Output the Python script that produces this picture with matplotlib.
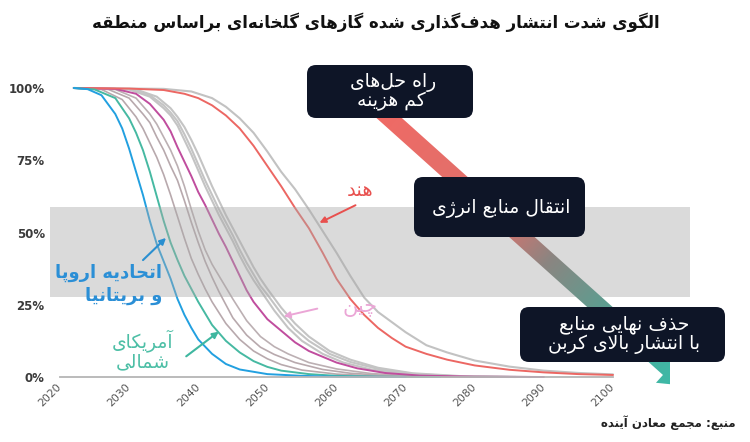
import numpy as np
import matplotlib
matplotlib.use('Agg')
import matplotlib.pyplot as plt
from matplotlib.patches import FancyBboxPatch, Rectangle, Polygon
from matplotlib.colors import LinearSegmentedColormap

plt.rcParams['font.family'] = ['DejaVu Sans']

# ---------------- data ----------------
x_ticks = [2020, 2030, 2040, 2050, 2060, 2070, 2080, 2090, 2100]
y_ticks = [0, 25, 50, 75, 100]
y_tick_labels = ['0%', '25%', '50%', '75%', '100%']

blue_years = [2022, 2024, 2026, 2028, 2029, 2030, 2031, 2032, 2033, 2034, 2035, 2036, 2037, 2038, 2039, 2040, 2042, 2044, 2046, 2050, 2055, 2060, 2070]
blue_vals = [100, 99.6, 97.5, 91, 86, 79, 71, 63, 54, 46, 40, 34, 27, 21.5, 17, 13, 8, 4.5, 2.6, 1.0, 0.4, 0.1, 0]

teal_years = [2022, 2025, 2028, 2030, 2031, 2032, 2033, 2034, 2035, 2036, 2037, 2038, 2039, 2040, 2042, 2044, 2046, 2048, 2050, 2052, 2056, 2060, 2066, 2075]
teal_vals = [100, 99.5, 96.5, 89.5, 84.5, 78.5, 71, 62.5, 54, 46.5, 40.5, 35, 30.5, 26, 18, 12.5, 8.5, 5.5, 3.5, 2.2, 1.0, 0.4, 0.1, 0]

mauve_a_years = [2022, 2026, 2029, 2031, 2032, 2033, 2034, 2035, 2036, 2037, 2038, 2039, 2040, 2041, 2042, 2044, 2046, 2048, 2050, 2052, 2055, 2060, 2065, 2072, 2080]
mauve_a_vals = [100, 99.5, 96, 90, 86, 81, 76, 70, 63, 55.5, 48, 41, 35.5, 30.5, 26, 18.5, 13, 9, 6.3, 4.3, 2.4, 1.0, 0.4, 0.1, 0]

mauve_b_years = [2022, 2027, 2030, 2032, 2033, 2034, 2035, 2036, 2037, 2038, 2039, 2040, 2041, 2042, 2043, 2045, 2047, 2049, 2051, 2054, 2058, 2062, 2068, 2075, 2085]
mauve_b_vals = [100, 99.5, 96.5, 91, 88, 83, 78.5, 73, 68, 61, 53.5, 46.5, 40, 34.5, 29.5, 20.5, 14.5, 10.3, 7.8, 5, 2.6, 1.3, 0.4, 0.1, 0]

mauve_c_years = [2022, 2028, 2031, 2033, 2034, 2035, 2036, 2037, 2038, 2039, 2040, 2041, 2042, 2043, 2045, 2047, 2049, 2051, 2053, 2056, 2060, 2065, 2070, 2078, 2088]
mauve_c_vals = [100, 99.5, 96.5, 91, 87.5, 83, 78.5, 73, 66, 58, 50.5, 44, 39, 35, 27, 19.5, 14, 10.5, 8, 5, 2.8, 1.2, 0.5, 0.1, 0]

china_years = [2022, 2028, 2031, 2033, 2035, 2036, 2037, 2038, 2039, 2040, 2041, 2042, 2043, 2044, 2045, 2046, 2047, 2048, 2050, 2052, 2054, 2056, 2058, 2060, 2063, 2067, 2072, 2080, 2090]
china_vals = [100, 99.7, 98, 94.5, 89, 85, 79.5, 74.5, 69.5, 64, 59.5, 54.5, 49.5, 45, 40, 35, 30, 26, 20, 16, 12, 9, 7, 5, 3, 1.4, 0.5, 0.1, 0]

gray_a_years = [2022, 2030, 2033, 2035, 2036, 2037, 2038, 2039, 2040, 2041, 2042, 2043, 2044, 2045, 2046, 2047, 2048, 2049, 2051, 2053, 2055, 2058, 2061, 2065, 2070, 2076, 2085]
gray_a_vals = [100, 99.5, 97, 93, 90.5, 87, 82, 77, 71.5, 66, 61, 56, 51.5, 47, 42, 37.5, 33.5, 30, 23, 17, 12.5, 8, 5, 2.6, 1.0, 0.3, 0]

gray_b_years = [2022, 2030, 2033, 2035, 2036, 2037, 2038, 2039, 2040, 2041, 2042, 2043, 2044, 2045, 2046, 2047, 2048, 2049, 2050, 2052, 2054, 2056, 2059, 2062, 2066, 2071, 2077, 2086]
gray_b_vals = [100, 99.6, 97.5, 94, 91.5, 88.5, 84, 79, 73.5, 68, 63, 58, 53.5, 49, 44, 39.5, 35.5, 31.5, 28.5, 22, 16.5, 12.5, 8, 5.2, 2.8, 1.1, 0.3, 0]

gray_c_years = [2022, 2031, 2034, 2036, 2037, 2038, 2039, 2040, 2041, 2042, 2043, 2044, 2045, 2046, 2047, 2048, 2049, 2050, 2052, 2054, 2056, 2059, 2062, 2066, 2071, 2078, 2088]
gray_c_vals = [100, 99.5, 97, 93, 90, 86.5, 82, 77, 71.5, 66, 61, 56, 51.5, 47, 42.5, 38, 34, 30.5, 24, 18.5, 14, 9, 6, 3.2, 1.3, 0.3, 0]

india_years = [2022, 2030, 2035, 2038, 2040, 2042, 2044, 2046, 2048, 2050, 2052, 2054, 2056, 2058, 2060, 2062, 2064, 2066, 2068, 2070, 2073, 2076, 2080, 2085, 2090, 2095, 2100]
india_vals = [100, 99.8, 99.3, 98, 96.5, 94, 90.5, 86, 80, 73, 66, 58.5, 51.5, 43, 34, 27, 21.5, 17, 13.5, 10.5, 8, 6, 4, 2.5, 1.6, 1.0, 0.7]

gray_d_years = [2022, 2035, 2039, 2042, 2044, 2046, 2048, 2050, 2052, 2054, 2056, 2058, 2060, 2062, 2064, 2066, 2068, 2070, 2073, 2076, 2080, 2085, 2090, 2095, 2100]
gray_d_vals = [100, 99.7, 98.8, 96.5, 93.5, 89.5, 84.5, 78, 71, 65, 58, 50.5, 43, 35, 27.5, 22.5, 19, 15.5, 11, 8.5, 5.7, 3.6, 2.2, 1.4, 0.9]

title_text = 'الگوی شدت انتشار هدف\u200cگذاری شده گازهای گلخانه\u200cای براساس منطقه'
source_text = 'منبع: مجمع معادن آینده'
box1_lines = ['راه حل\u200cهای', 'کم هزینه']
box2_lines = ['انتقال منابع انرژی']
box3_lines = ['حذف نهایی منابع', 'با انتشار بالای کربن']
eu_lines = ['اتحادیه اروپا', 'و بریتانیا']
na_lines = ['آمریکای', 'شمالی']
india_label = 'هند'
china_label = 'چین'

# ---------------- Persian shaping (matplotlib has no complex text layout) ----------------
FORMS = {
    '\u0622': ('\uFE81', '\uFE82', None, None),
    '\u0627': ('\uFE8D', '\uFE8E', None, None),
    '\u0628': ('\uFE8F', '\uFE90', '\uFE91', '\uFE92'),
    '\u067E': ('\uFB56', '\uFB57', '\uFB58', '\uFB59'),
    '\u062A': ('\uFE95', '\uFE96', '\uFE97', '\uFE98'),
    '\u062B': ('\uFE99', '\uFE9A', '\uFE9B', '\uFE9C'),
    '\u062C': ('\uFE9D', '\uFE9E', '\uFE9F', '\uFEA0'),
    '\u0686': ('\uFB7A', '\uFB7B', '\uFB7C', '\uFB7D'),
    '\u062D': ('\uFEA1', '\uFEA2', '\uFEA3', '\uFEA4'),
    '\u062E': ('\uFEA5', '\uFEA6', '\uFEA7', '\uFEA8'),
    '\u062F': ('\uFEA9', '\uFEAA', None, None),
    '\u0630': ('\uFEAB', '\uFEAC', None, None),
    '\u0631': ('\uFEAD', '\uFEAE', None, None),
    '\u0632': ('\uFEAF', '\uFEB0', None, None),
    '\u0698': ('\uFB8A', '\uFB8B', None, None),
    '\u0633': ('\uFEB1', '\uFEB2', '\uFEB3', '\uFEB4'),
    '\u0634': ('\uFEB5', '\uFEB6', '\uFEB7', '\uFEB8'),
    '\u0635': ('\uFEB9', '\uFEBA', '\uFEBB', '\uFEBC'),
    '\u0636': ('\uFEBD', '\uFEBE', '\uFEBF', '\uFEC0'),
    '\u0637': ('\uFEC1', '\uFEC2', '\uFEC3', '\uFEC4'),
    '\u0638': ('\uFEC5', '\uFEC6', '\uFEC7', '\uFEC8'),
    '\u0639': ('\uFEC9', '\uFECA', '\uFECB', '\uFECC'),
    '\u063A': ('\uFECD', '\uFECE', '\uFECF', '\uFED0'),
    '\u0641': ('\uFED1', '\uFED2', '\uFED3', '\uFED4'),
    '\u0642': ('\uFED5', '\uFED6', '\uFED7', '\uFED8'),
    '\u06A9': ('\uFB8E', '\uFB8F', '\uFB90', '\uFB91'),
    '\u06AF': ('\uFB92', '\uFB93', '\uFB94', '\uFB95'),
    '\u0644': ('\uFEDD', '\uFEDE', '\uFEDF', '\uFEE0'),
    '\u0645': ('\uFEE1', '\uFEE2', '\uFEE3', '\uFEE4'),
    '\u0646': ('\uFEE5', '\uFEE6', '\uFEE7', '\uFEE8'),
    '\u0647': ('\uFEE9', '\uFEEA', '\uFEEB', '\uFEEC'),
    '\u0648': ('\uFEED', '\uFEEE', None, None),
    '\u06CC': ('\uFBFC', '\uFBFD', '\uFBFE', '\uFBFF'),
}
LAMALEF = {'\u0627': ('\uFEFB', '\uFEFC'), '\u0622': ('\uFEF5', '\uFEF6')}


def fa(s):
    s = s.replace('\u064A', '\u06CC').replace('\u0643', '\u06A9')
    ch = list(s)
    n = len(ch)

    def dual(c):
        return c in FORMS and FORMS[c][2] is not None

    out = []
    i = 0
    while i < n:
        c = ch[i]
        if c not in FORMS:
            if c != '\u200c':
                out.append(c)
            i += 1
            continue
        jp = i > 0 and dual(ch[i - 1])
        if c == '\u0644' and i + 1 < n and ch[i + 1] in LAMALEF:
            out.append(LAMALEF[ch[i + 1]][1 if jp else 0])
            i += 2
            continue
        jn = dual(c) and i + 1 < n and ch[i + 1] in FORMS
        iso, fin, ini, med = FORMS[c]
        if jp and jn:
            out.append(med)
        elif jp:
            out.append(fin)
        elif jn:
            out.append(ini)
        else:
            out.append(iso)
        i += 1
    return ''.join(reversed(out))


# ---------------- figure ----------------
W, H = 750, 442
fig = plt.figure(figsize=(W / 100, H / 100), dpi=100)
fig.patch.set_facecolor('white')

ax = fig.add_axes([60 / W, (H - 377) / H, 553 / W, 289 / H])
ax.set_xlim(2020, 2100)
ax.set_ylim(0, 100)
for s in ['top', 'right', 'left']:
    ax.spines[s].set_visible(False)
ax.spines['bottom'].set_color('#b5b5b5')
ax.spines['bottom'].set_linewidth(1.3)
ax.set_xticks(x_ticks)
ax.set_xticklabels([str(t) for t in x_ticks], rotation=45, ha='right', va='center',
                   rotation_mode='anchor', fontsize=7.8, color='#555555')
ax.set_yticks(y_ticks)
ax.set_yticklabels(y_tick_labels, fontsize=8.5, color='#3a3a3a', fontweight='bold')
ax.tick_params(axis='both', length=0)
ax.tick_params(axis='y', pad=11)
ax.tick_params(axis='x', pad=6)

series = [
    (gray_d_years, gray_d_vals, '#c2c2c2', 1.5),
    (gray_a_years, gray_a_vals, '#c4c4c4', 1.5),
    (gray_b_years, gray_b_vals, '#c4c4c4', 1.5),
    (gray_c_years, gray_c_vals, '#c4c4c4', 1.5),
    (mauve_a_years, mauve_a_vals, '#b8a9ad', 1.2),
    (mauve_b_years, mauve_b_vals, '#b8a9ad', 1.2),
    (mauve_c_years, mauve_c_vals, '#bcb0b3', 1.2),
    (china_years, china_vals, '#c04d9e', 1.4),
    (india_years, india_vals, '#ec6763', 1.4),
    (teal_years, teal_vals, '#46b9a2', 1.4),
    (blue_years, blue_vals, '#22a0e0', 1.4),
]
for yrs, vals, col, lw in series:
    ax.plot(yrs, vals, color=col, lw=lw, clip_on=False, solid_capstyle='round')

# ---------------- overlay (pixel coordinates) ----------------
ov = fig.add_axes([0, 0, 1, 1], zorder=5)
ov.axis('off')
ov.patch.set_alpha(0)

# watermark band
ov.add_patch(Rectangle((50, 207), 640, 90, facecolor='#a9a9a9', alpha=0.42, lw=0, zorder=1))

# gradient arrow (image clipped to arrow polygon, cut at the right edge like the source)
S = np.array([378.0, 108.0])
T = np.array([688.0, 386.0])
L = np.linalg.norm(T - S)
u = (T - S) / L
nrm = np.array([-u[1], u[0]])
hw, hhw, hl = 8.5, 19.0, 26.0
Hd = T - u * hl
pts = [S + nrm * hw, Hd + nrm * hw, Hd + nrm * hhw, T, Hd - nrm * hhw, Hd - nrm * hw, S - nrm * hw]
poly = Polygon(pts, closed=True, facecolor='none', edgecolor='none')
ov.add_patch(poly)
cmap = LinearSegmentedColormap.from_list('g', [(0, '#f06a65'), (0.40, '#dc726d'), (0.55, '#8b8581'),
                                               (0.78, '#4fa595'), (1.0, '#3bbdaa')])
x_lo, x_hi, y_lo, y_hi = 340, 670, 90, 400
gx = np.linspace(x_lo, x_hi, 300)
gy = np.linspace(y_lo, y_hi, 300)
GX, GY = np.meshgrid(gx, gy)
proj = ((GX - S[0]) * u[0] + (GY - S[1]) * u[1]) / L
im = ov.imshow(np.clip(proj, 0, 1), extent=(x_lo, x_hi, y_hi, y_lo), cmap=cmap, vmin=0, vmax=1,
               origin='upper', zorder=2, aspect='auto', interpolation='bilinear')
im.set_clip_path(poly)
ov.set_xlim(0, W)
ov.set_ylim(H, 0)

# dark boxes
box_col = '#0e1527'
for (x0, y0, x1, y1) in [(307, 65, 473, 118), (414, 177, 585, 237), (520, 307, 725, 362)]:
    ov.add_patch(FancyBboxPatch((x0, y0), x1 - x0, y1 - y0,
                                boxstyle='round,pad=0,rounding_size=9',
                                facecolor=box_col, edgecolor='none', zorder=3))

bfs = 13.5
ov.text(393, 82, fa(box1_lines[0]), color='white', fontsize=bfs, ha='center', va='center', zorder=4)
ov.text(391, 101, fa(box1_lines[1]), color='white', fontsize=bfs, ha='center', va='center', zorder=4)
ov.text(501, 208, fa(box2_lines[0]), color='white', fontsize=bfs, ha='center', va='center', zorder=4)
ov.text(624, 324, fa(box3_lines[0]), color='white', fontsize=bfs, ha='center', va='center', zorder=4)
ov.text(624, 344, fa(box3_lines[1]), color='white', fontsize=bfs, ha='center', va='center', zorder=4)

# title and source
ov.text(376, 22, fa(title_text), fontsize=12, fontweight='bold', color='#111111',
        ha='center', va='center', zorder=4)
ov.text(736, 423, fa(source_text), fontsize=8.5, fontweight='bold', color='#222222',
        ha='right', va='center', zorder=4)

# series labels
eu_col = '#2b8fd6'
ov.text(162, 273, fa(eu_lines[0]), fontsize=13, fontweight='bold', color=eu_col, ha='right', va='center', zorder=4)
ov.text(162, 296, fa(eu_lines[1]), fontsize=13, fontweight='bold', color=eu_col, ha='right', va='center', zorder=4)
ov.annotate('', xy=(168, 236), xytext=(141, 262),
            arrowprops=dict(arrowstyle='-|>', color='#2a8fd0', lw=1.5, mutation_scale=9), zorder=4)

na_col = '#4dbfa6'
ov.text(143, 341, fa(na_lines[0]), fontsize=13.5, color=na_col, ha='center', va='center', zorder=4)
ov.text(143, 362, fa(na_lines[1]), fontsize=13.5, color=na_col, ha='center', va='center', zorder=4)
ov.annotate('', xy=(221, 330), xytext=(184, 358),
            arrowprops=dict(arrowstyle='-|>', color='#3fb7a0', lw=1.5, mutation_scale=9), zorder=4)

ov.text(360, 190, fa(india_label), fontsize=14, color='#e8504e', ha='center', va='center', zorder=4)
ov.annotate('', xy=(317, 224), xytext=(358, 204),
            arrowprops=dict(arrowstyle='-|>', color='#e8504e', lw=1.4, mutation_scale=9), zorder=4)

ov.text(360, 307, fa(china_label), fontsize=15, color='#eba6d6', ha='center', va='center', zorder=4)
ov.annotate('', xy=(281, 317), xytext=(320, 308),
            arrowprops=dict(arrowstyle='-|>', color='#eba6d6', lw=1.4, mutation_scale=9), zorder=4)

fig.savefig('out.png', dpi=100, facecolor='white')
